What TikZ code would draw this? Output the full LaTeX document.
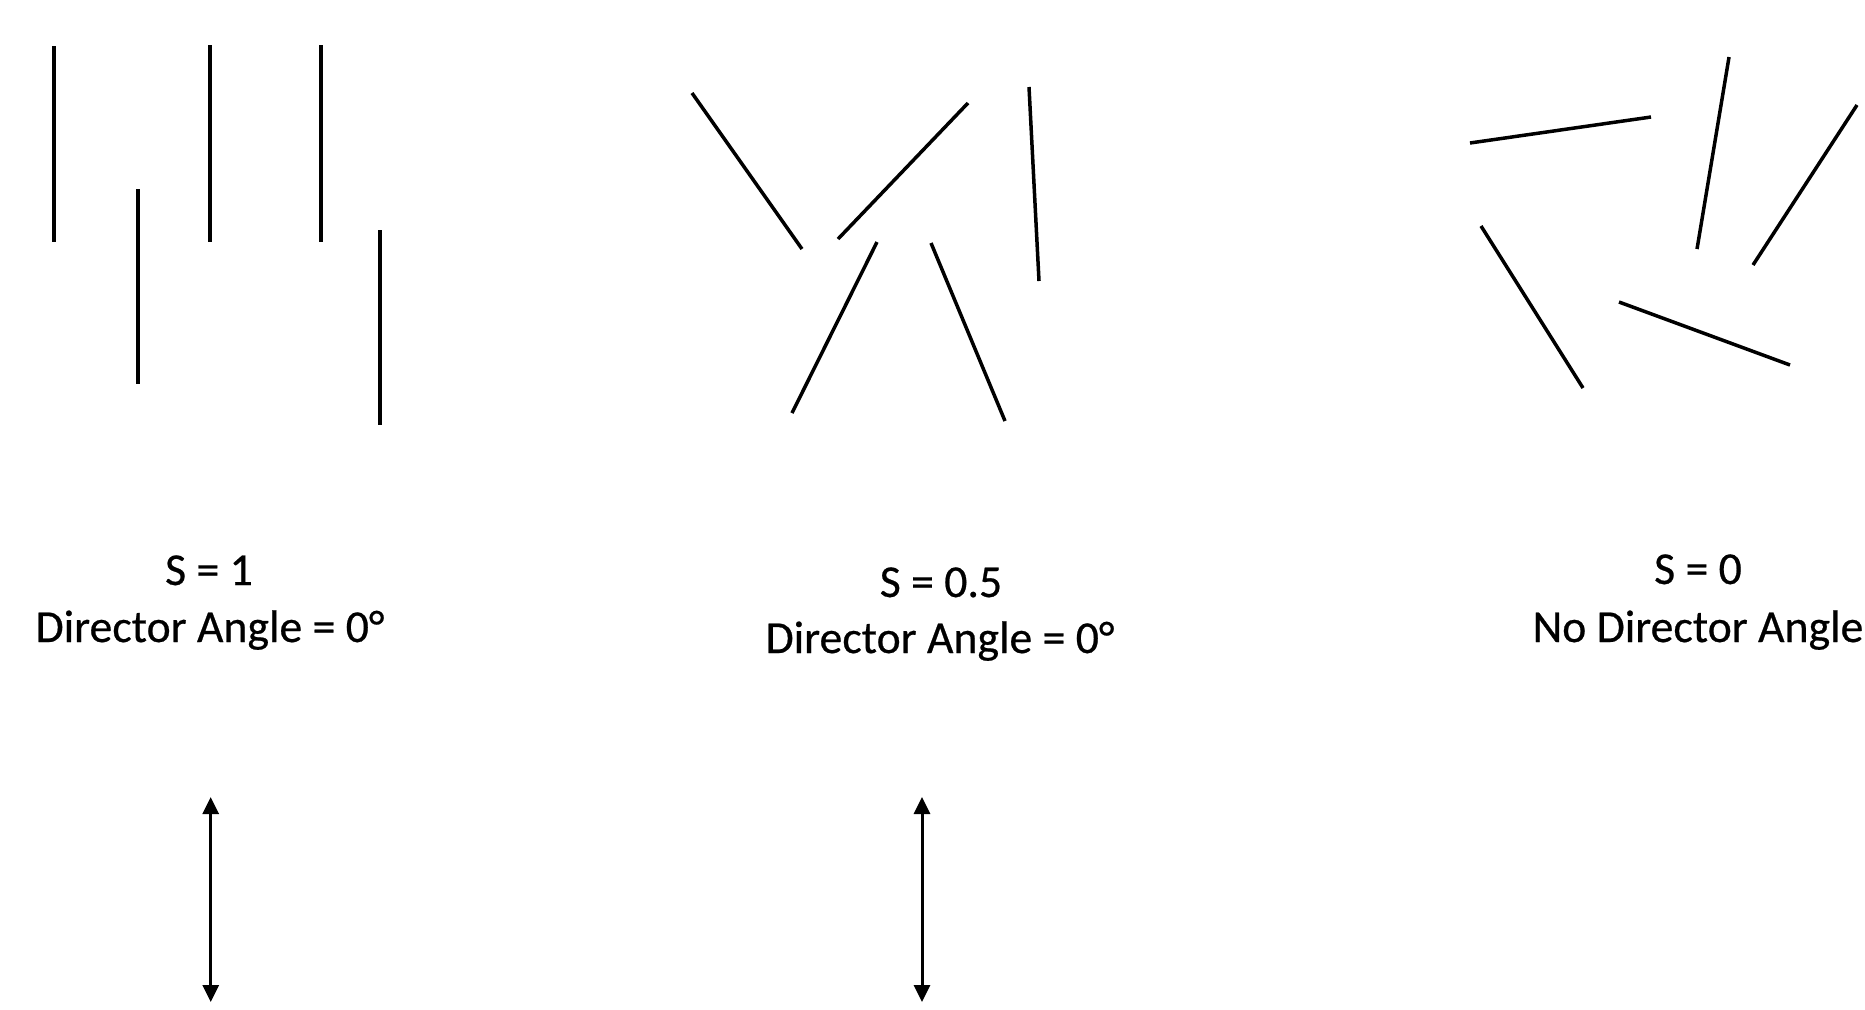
\documentclass[tikz,border=0pt]{standalone}
\usepackage{fontspec}
\setmainfont[FakeBold=0.5]{Carlito}
\usetikzlibrary{arrows.meta}
\tikzset{
  rod/.style={line width=1.4pt, black},
  dirarrow/.style={line width=1.2pt, black, {Triangle[width=6.4pt,length=6.8pt]}-{Triangle[width=6.4pt,length=6.8pt]}},
  lbl/.style={anchor=base, inner sep=0pt, font=\fontsize{18.3pt}{22.8pt}\selectfont}
}
\begin{document}
\begin{tikzpicture}[x=0.4pt,y=-0.4pt]
\useasboundingbox (0,0) rectangle (1865,1009);
% S = 1 group
\coordinate (a1s) at (54,46);  \coordinate (a1e) at (54,242);
\coordinate (a2s) at (138,189); \coordinate (a2e) at (138,384);
\coordinate (a3s) at (210,45); \coordinate (a3e) at (210,242);
\coordinate (a4s) at (321,45); \coordinate (a4e) at (321,242);
\coordinate (a5s) at (380,230); \coordinate (a5e) at (380,425);
\foreach \i in {1,...,5} \draw[rod] (a\i s) -- (a\i e);
% S = 0.5 group
\coordinate (b1s) at (692,93);  \coordinate (b1e) at (802,249);
\coordinate (b2s) at (968,103); \coordinate (b2e) at (838,239);
\coordinate (b3s) at (1029,87); \coordinate (b3e) at (1039,281);
\coordinate (b4s) at (877,242); \coordinate (b4e) at (792,413);
\coordinate (b5s) at (931,243); \coordinate (b5e) at (1005,421);
\foreach \i in {1,...,5} \draw[rod] (b\i s) -- (b\i e);
% S = 0 group
\coordinate (c1s) at (1470,143); \coordinate (c1e) at (1651,117);
\coordinate (c2s) at (1729,57);  \coordinate (c2e) at (1697,249);
\coordinate (c3s) at (1857,105); \coordinate (c3e) at (1753,265);
\coordinate (c4s) at (1481,226); \coordinate (c4e) at (1583,388);
\coordinate (c5s) at (1619,302); \coordinate (c5e) at (1790,365);
\foreach \i in {1,...,5} \draw[rod] (c\i s) -- (c\i e);
% labels
\node[lbl] (s1) at (209,585) {S = 1};
\node[lbl] (d1) at (210,642) {Director Angle = 0°};
\node[lbl] (s2) at (941,597) {S = 0.5};
\node[lbl] (d2) at (940,653) {Director Angle = 0°};
\node[lbl] (s3) at (1698,584) {S = 0};
\node[lbl] (d3) at (1698,642) {No Director Angle};
% director arrows
\coordinate (u1) at (210.7,797); \coordinate (w1) at (210.7,1002);
\coordinate (u2) at (922,797); \coordinate (w2) at (922,1002);
\draw[dirarrow] (u1) -- (w1);
\draw[dirarrow] (u2) -- (w2);
\end{tikzpicture}
\end{document}
